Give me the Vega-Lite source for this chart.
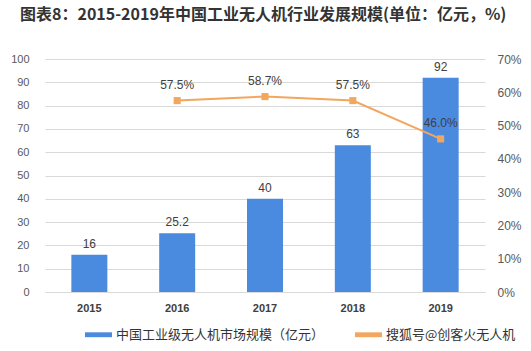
{
  "$schema": "https://vega.github.io/schema/vega-lite/v6.json",
  "width": 440,
  "height": 233,
  "autosize": {"type": "none"},
  "padding": {"left": 45, "top": 59, "right": 46, "bottom": 59},
  "background": "white",
  "title": {
    "text": "图表8：2015-2019年中国工业无人机行业发展规模(单位：亿元，%)",
    "anchor": "start",
    "frame": "group",
    "dx": -25,
    "offset": 30,
    "font": "Noto Sans CJK SC",
    "fontSize": 16,
    "fontWeight": "bold",
    "color": "#333333"
  },
  "data": {
    "values": [
      {"year": "2015", "market": 16, "growth": null},
      {"year": "2016", "market": 25.2, "growth": 0.575},
      {"year": "2017", "market": 40, "growth": 0.587},
      {"year": "2018", "market": 63, "growth": 0.575},
      {"year": "2019", "market": 92, "growth": 0.46}
    ]
  },
  "config": {
    "view": {"stroke": null},
    "axis": {"labelFont": "Liberation Sans", "labelColor": "#595959", "labelFontSize": 11, "title": null}
  },
  "encoding": {
    "x": {
      "field": "year",
      "type": "ordinal",
      "scale": {"paddingInner": 0.59, "paddingOuter": 0.3},
      "axis": {"labelAngle": 0, "labelFontWeight": "bold", "labelColor": "#404040", "ticks": false, "domainColor": "#d9d9d9", "labelPadding": 10}
    }
  },
  "layer": [
    {
      "encoding": {
        "y": {
          "field": "market",
          "type": "quantitative",
          "scale": {"domain": [0, 100], "nice": false},
          "axis": {"values": [0, 10, 20, 30, 40, 50, 60, 70, 80, 90, 100], "grid": true, "gridColor": "#d9d9d9", "domain": false, "ticks": false, "labelPadding": 16}
        }
      },
      "layer": [
        {
          "mark": {"type": "bar", "width": 36},
          "encoding": {
            "color": {
              "datum": "中国工业级无人机市场规模（亿元）",
              "type": "nominal",
              "scale": {"domain": ["中国工业级无人机市场规模（亿元）", "搜狐号@创客火无人机"], "range": ["#4a8be0", "#f2a65e"]},
              "legend": {
                "orient": "none",
                "legendX": 40,
                "legendY": 262,
                "direction": "horizontal",
                "title": null,
                "labelFont": "Noto Sans CJK SC",
                "labelFontSize": 13,
                "labelColor": "#333333",
                "labelLimit": 300,
                "symbolType": "M-1,-0.18H1V0.18H-1Z",
                "symbolSize": 729,
                "symbolStrokeWidth": 0,
                "labelOffset": 4,
                "columnPadding": 30
              }
            }
          }
        },
        {
          "mark": {"type": "text", "baseline": "bottom", "dy": -4, "font": "Liberation Sans", "fontSize": 12, "color": "#404040"},
          "encoding": {"text": {"field": "market", "type": "quantitative"}}
        }
      ]
    },
    {
      "encoding": {
        "y": {
          "field": "growth",
          "type": "quantitative",
          "scale": {"domain": [0, 0.7], "nice": false},
          "axis": {"orient": "right", "format": ".0%", "values": [0, 0.1, 0.2, 0.3, 0.4, 0.5, 0.6, 0.7], "grid": false, "domain": false, "ticks": false, "labelPadding": 12, "labelFontSize": 12}
        }
      },
      "layer": [
        {
          "transform": [{"filter": "datum.growth != null"}],
          "mark": {"type": "line", "strokeWidth": 2},
          "encoding": {
            "color": {"datum": "搜狐号@创客火无人机", "type": "nominal"}
          }
        },
        {
          "transform": [{"filter": "datum.growth != null"}],
          "mark": {"type": "point", "shape": "square", "filled": true, "size": 50, "opacity": 1, "color": "#f2a65e"}
        },
        {
          "transform": [{"filter": "datum.growth != null"}],
          "mark": {"type": "text", "baseline": "bottom", "dy": -9, "font": "Liberation Sans", "fontSize": 12, "color": "#404040"},
          "encoding": {"text": {"field": "growth", "type": "quantitative", "format": ".1%"}}
        }
      ]
    }
  ],
  "resolve": {"scale": {"y": "independent"}}
}
